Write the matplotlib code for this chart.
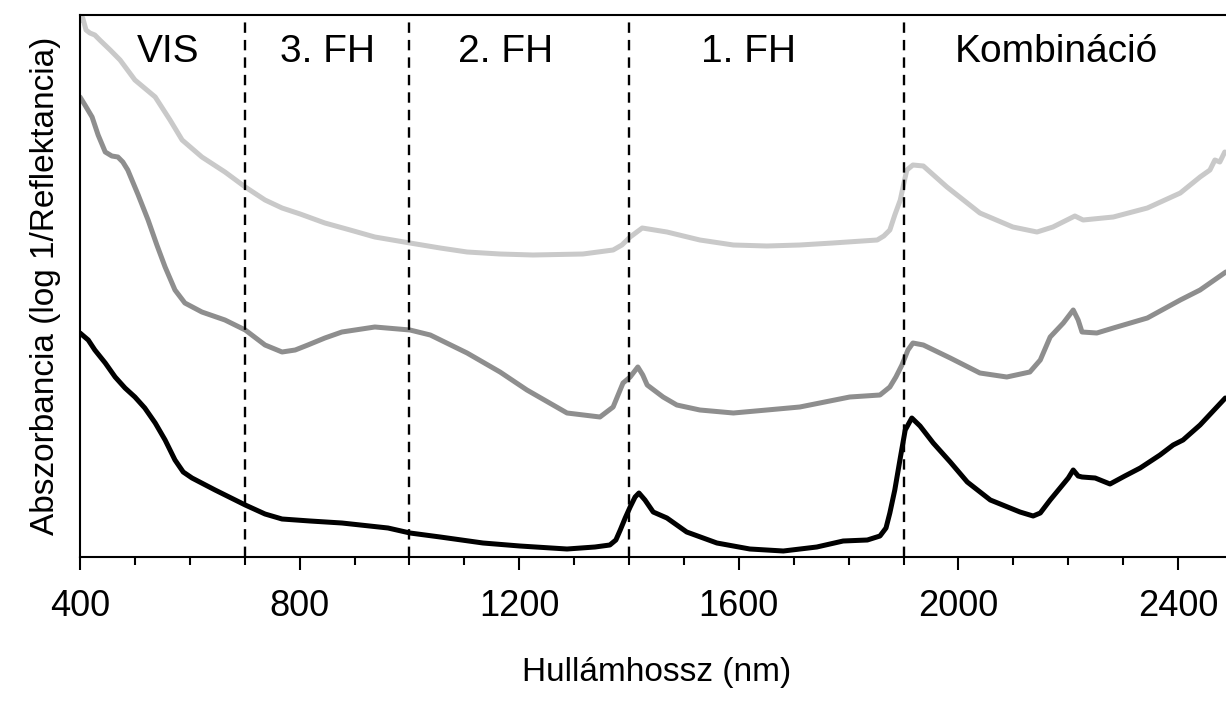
import matplotlib.pyplot as plt
from matplotlib.ticker import MultipleLocator

plt.rcParams['font.family'] = ['Liberation Sans', 'DejaVu Sans']

# világos szürke spektrum (felső)
nm_light = [402, 405, 411, 418, 427, 436, 455, 473, 500, 537, 564, 586, 622, 664, 701, 737, 768, 801,
            846, 892, 937, 1001, 1056, 1105, 1165, 1225, 1316, 1371, 1387, 1402, 1424, 1469, 1529, 1590,
            1651, 1711, 1771, 1852, 1864, 1875, 1884, 1894, 1903, 1906, 1917, 1936, 1979, 2039, 2099,
            2143, 2172, 2212, 2227, 2282, 2344, 2376, 2404, 2440, 2458, 2467, 2476, 2485]
abs_light = [5.37, 5.39, 5.27, 5.24, 5.22, 5.17, 5.07, 4.97, 4.77, 4.60, 4.37, 4.17, 4.00, 3.85, 3.70,
             3.57, 3.49, 3.43, 3.34, 3.27, 3.20, 3.14, 3.09, 3.05, 3.03, 3.02, 3.03, 3.07, 3.12, 3.20,
             3.29, 3.25, 3.17, 3.12, 3.11, 3.12, 3.14, 3.17, 3.21, 3.27, 3.42, 3.57, 3.80, 3.87, 3.92,
             3.91, 3.70, 3.44, 3.30, 3.25, 3.30, 3.41, 3.37, 3.40, 3.49, 3.57, 3.64, 3.80, 3.87, 3.97,
             3.95, 4.05]

# közepes szürke spektrum
nm_mid = [400, 409, 422, 433, 446, 458, 469, 478, 487, 506, 524, 540, 555, 573, 591, 622, 664, 701, 737,
          768, 792, 815, 846, 877, 937, 1001, 1038, 1105, 1165, 1214, 1287, 1347, 1371, 1389, 1402,
          1416, 1425, 1433, 1462, 1487, 1529, 1590, 1651, 1711, 1802, 1857, 1875, 1886, 1897, 1908,
          1917, 1936, 1985, 2039, 2088, 2130, 2149, 2167, 2191, 2209, 2218, 2225, 2252, 2282, 2344,
          2404, 2440, 2487]
abs_mid = [4.60, 4.52, 4.40, 4.22, 4.05, 4.01, 4.00, 3.95, 3.87, 3.62, 3.37, 3.12, 2.90, 2.67, 2.54,
           2.45, 2.37, 2.27, 2.12, 2.05, 2.07, 2.12, 2.19, 2.25, 2.30, 2.27, 2.22, 2.04, 1.85, 1.67,
           1.44, 1.40, 1.50, 1.74, 1.80, 1.90, 1.82, 1.72, 1.60, 1.52, 1.47, 1.44, 1.47, 1.50, 1.60,
           1.62, 1.70, 1.80, 1.92, 2.07, 2.14, 2.12, 1.99, 1.84, 1.80, 1.85, 1.97, 2.20, 2.34, 2.47,
           2.37, 2.25, 2.24, 2.29, 2.39, 2.57, 2.67, 2.85]

# fekete spektrum (alsó)
nm_dark = [400, 415, 427, 446, 464, 482, 500, 518, 537, 555, 573, 588, 604, 646, 701, 737, 768, 819,
           877, 961, 1001, 1056, 1134, 1201, 1287, 1338, 1365, 1376, 1384, 1393, 1402, 1411, 1418,
           1429, 1444, 1469, 1505, 1560, 1620, 1681, 1742, 1790, 1834, 1857, 1868, 1875, 1884, 1894,
           1903, 1915, 1930, 1954, 1985, 2016, 2058, 2112, 2136, 2149, 2167, 2185, 2200, 2209, 2218,
           2225, 2249, 2276, 2303, 2331, 2367, 2391, 2409, 2440, 2486]
abs_dark = [2.24, 2.17, 2.07, 1.94, 1.80, 1.69, 1.60, 1.49, 1.34, 1.17, 0.97, 0.85, 0.79, 0.67, 0.52,
            0.43, 0.38, 0.36, 0.34, 0.29, 0.24, 0.20, 0.14, 0.11, 0.08, 0.10, 0.12, 0.17, 0.27, 0.39,
            0.50, 0.60, 0.64, 0.57, 0.45, 0.39, 0.25, 0.14, 0.08, 0.06, 0.10, 0.16, 0.17, 0.21, 0.29,
            0.44, 0.67, 0.99, 1.27, 1.39, 1.31, 1.14, 0.95, 0.75, 0.57, 0.45, 0.41, 0.44, 0.57, 0.69,
            0.79, 0.87, 0.81, 0.80, 0.79, 0.73, 0.81, 0.89, 1.02, 1.12, 1.17, 1.32, 1.59]

# tartomány-határok és feliratok
hatarok = [700, 1000, 1400, 1900]
regio_nevek = ['VIS', '3. FH', '2. FH', '1. FH', 'Kombináció']
regio_x = [560, 850, 1176, 1617, 2178]

fig = plt.figure(figsize=(12.26, 7.02), dpi=100)
ax = fig.add_axes([80 / 1226, 145 / 702, 1153 / 1226, 542.5 / 702])

ax.plot(nm_light, abs_light, color='#c9c9c9', lw=3.6, solid_joinstyle='round', solid_capstyle='round', zorder=2)
ax.plot(nm_mid, abs_mid, color='#8e8e8e', lw=3.6, solid_joinstyle='round', solid_capstyle='round', zorder=2)
ax.plot(nm_dark, abs_dark, color='black', lw=3.6, solid_joinstyle='round', solid_capstyle='round', zorder=2)

for h in hatarok:
    ax.axvline(h, color='black', lw=1.7, dashes=(4.4, 3.0), zorder=3)

for nev, x in zip(regio_nevek, regio_x):
    ax.text(x, 0.93, nev, transform=ax.get_xaxis_transform(), ha='center', va='center', fontsize=28)

ax.set_xlim(400, 2500)
ax.set_ylim(0, 5.425)
ax.xaxis.set_major_locator(MultipleLocator(400))
ax.xaxis.set_minor_locator(MultipleLocator(100))
ax.tick_params(axis='x', which='major', direction='out', length=9, width=1.5, labelsize=26, pad=14)
ax.tick_params(axis='x', which='minor', direction='out', length=6, width=1.5)
ax.set_yticks([])
for s in ax.spines.values():
    s.set_linewidth(1.5)

ax.set_xlabel('Hullámhossz (nm)', fontsize=24, labelpad=24)
ax.set_ylabel('Abszorbancia (log 1/Reflektancia)', fontsize=24, labelpad=14)

fig.savefig('out.png', dpi=100)
